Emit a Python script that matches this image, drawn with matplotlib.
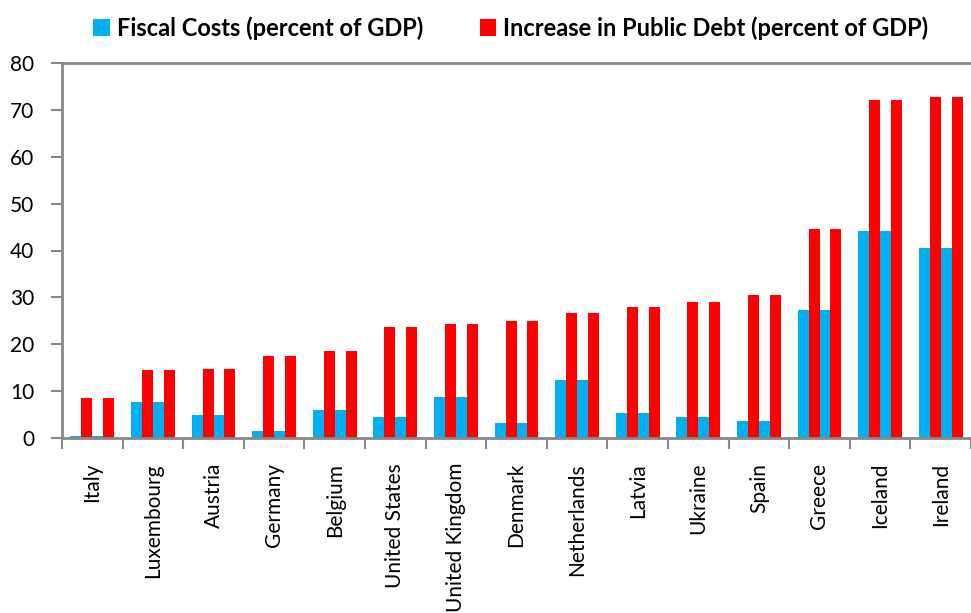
import matplotlib.pyplot as plt
import numpy as np

countries = ["Italy", "Luxembourg", "Austria", "Germany", "Belgium",
             "United States", "United Kingdom", "Denmark", "Netherlands",
             "Latvia", "Ukraine", "Spain", "Greece", "Iceland", "Ireland"]
fiscal_costs = [0.4, 7.7, 4.9, 1.6, 5.9, 4.4, 8.7, 3.1, 12.4, 5.4, 4.4, 3.6,
                27.3, 44.1, 40.6]
debt_increase = [8.5, 14.5, 14.8, 17.6, 18.6, 23.7, 24.4, 24.9, 26.7, 27.9,
                 29.0, 30.5, 44.5, 72.1, 72.8]

BLUE = "#00b0f0"
RED = "#ff0000"
AXIS = "#888888"

plt.rcParams["font.family"] = ["Lato", "DejaVu Sans"]

fig = plt.figure(figsize=(9.71, 6.13), dpi=100)
ax = fig.add_axes([62 / 971, 1 - 438 / 613, 1 - 62 / 971, (438 - 63) / 613])

x = np.arange(len(countries))
w = 0.18
# each country shows the pair twice: blue, red, blue, red
b1 = ax.bar(x - 1.5 * w, fiscal_costs, w, color=BLUE, lw=0)
r1 = ax.bar(x - 0.5 * w, debt_increase, w, color=RED, lw=0)
ax.bar(x + 0.5 * w, fiscal_costs, w, color=BLUE, lw=0)
ax.bar(x + 1.5 * w, debt_increase, w, color=RED, lw=0)

ax.set_xlim(-0.5, -0.5 + (971 - 62) / 61.1)
ax.set_ylim(0, 80)
ax.set_yticks(range(0, 81, 10))
ax.tick_params(axis="y", length=8, width=1.5, color=AXIS, labelsize=15, pad=12)

ax.set_xticks(x)
ax.set_xticklabels(countries, rotation=90, fontsize=15)
ax.set_xticks(np.arange(-0.5, len(countries), 1), minor=True)
ax.tick_params(axis="x", which="major", length=0, pad=18)
ax.tick_params(axis="x", which="minor", length=8, width=1.5, color=AXIS)

for side in ("left", "bottom", "top"):
    ax.spines[side].set_color(AXIS)
    ax.spines[side].set_linewidth(2)
ax.spines["right"].set_visible(False)

fig.legend([b1, r1],
           ["Fiscal Costs (percent of GDP)", "Increase in Public Debt (percent of GDP)"],
           loc="center", bbox_to_anchor=(0.526, 1 - 28 / 613), ncol=2,
           frameon=False, handlelength=0.7, handleheight=0.7, handletextpad=0.3,
           columnspacing=2.4, prop={"weight": "bold", "size": 17})

fig.savefig("out.png")
